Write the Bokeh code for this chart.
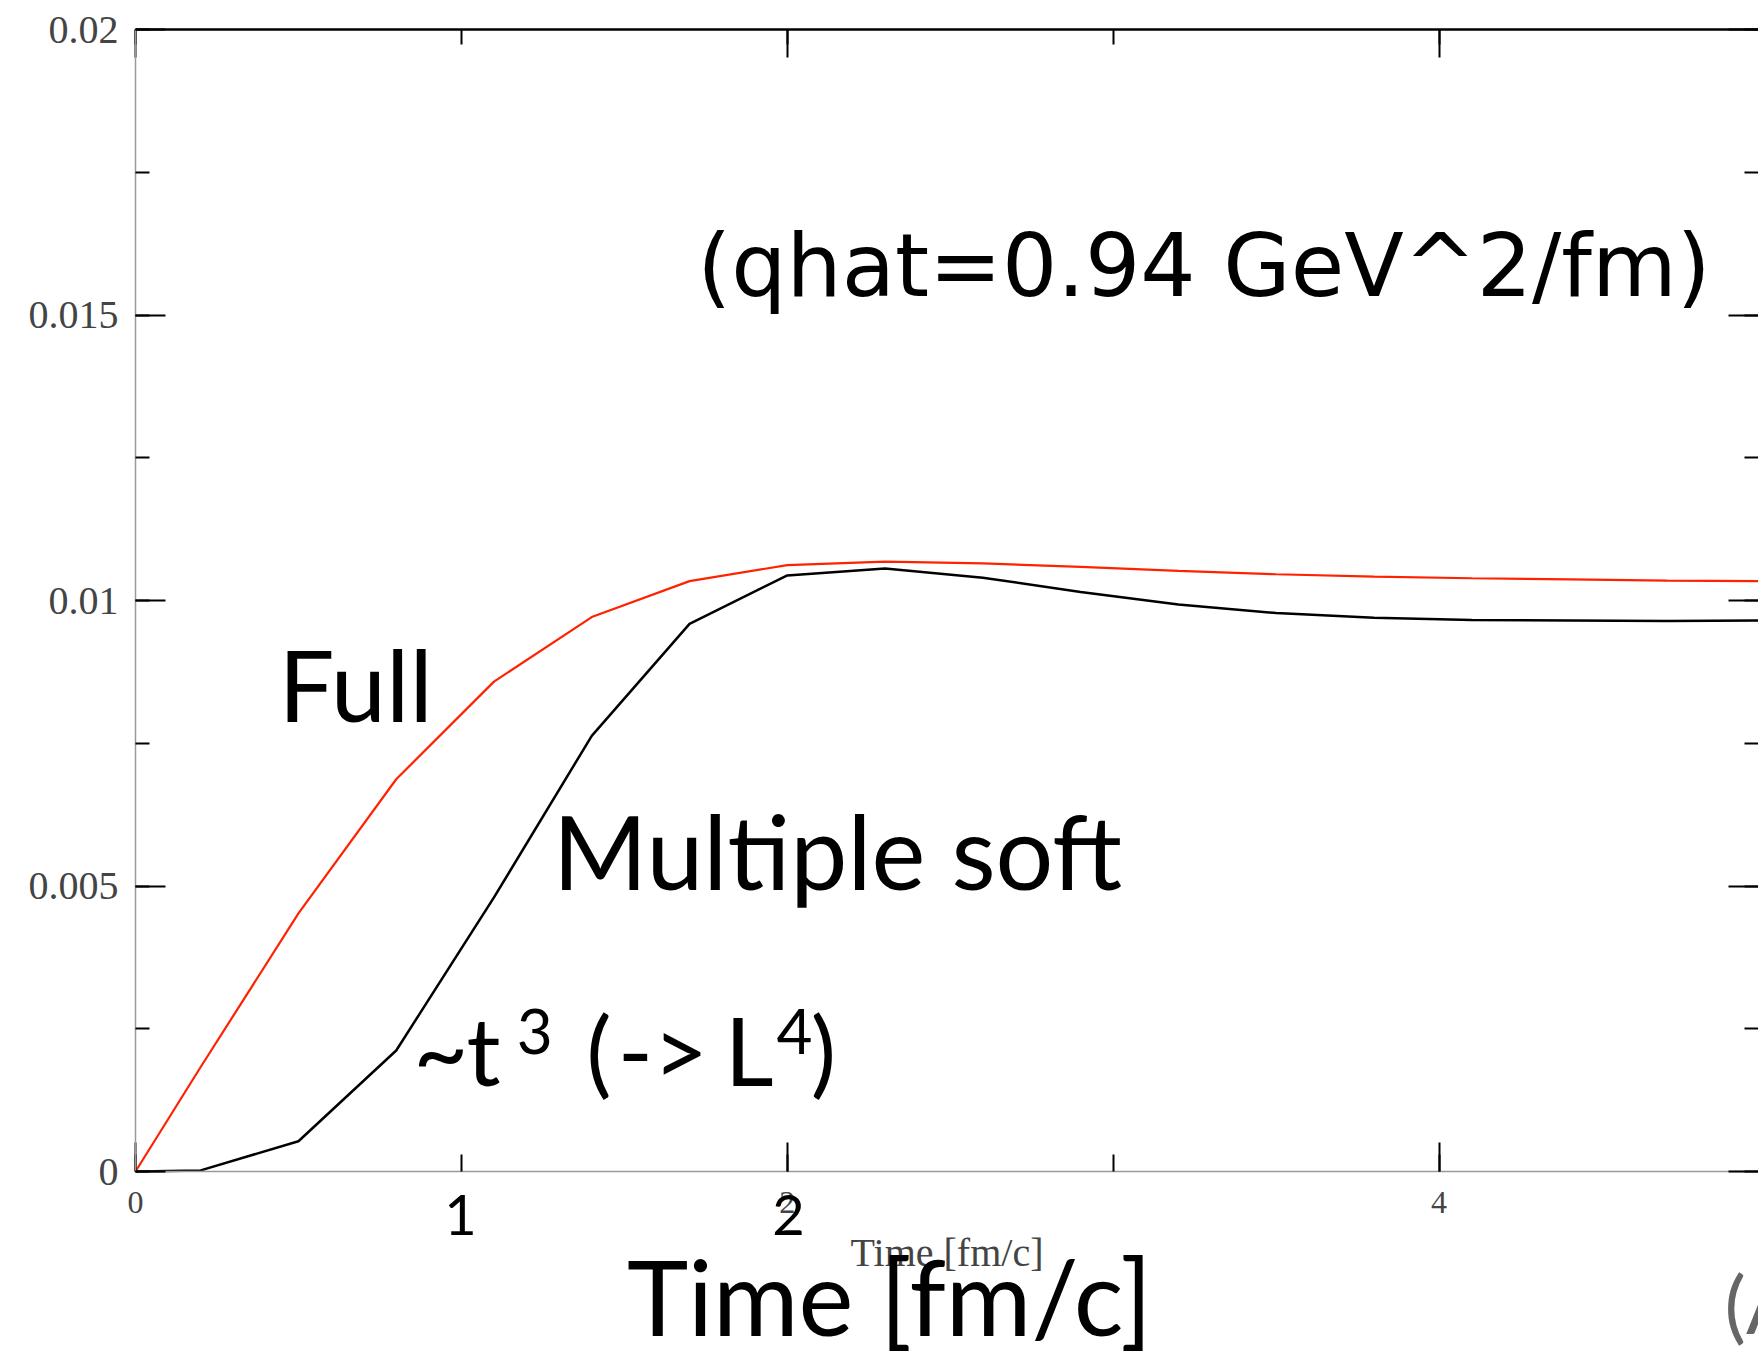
from bokeh.plotting import figure
from bokeh.models import (Range1d, SingleIntervalTicker, LinearAxis, Label,
                          CustomJSTickFormatter)
from bokeh.embed import file_html
from bokeh.resources import INLINE

# Time grid [fm/c]
time_fm = [0.0, 0.2, 0.5, 0.8, 1.1, 1.4, 1.7, 2.0, 2.3, 2.6, 2.9,
           3.2, 3.5, 3.8, 4.1, 4.4, 4.7, 5.0]
# Full calculation
full = [0.0, 0.00183, 0.00452, 0.00687, 0.00858, 0.00971, 0.01034, 0.01062,
        0.01068, 0.01065, 0.01059, 0.01052, 0.01046, 0.01042, 0.01039,
        0.01037, 0.01035, 0.01034]
# Multiple soft scattering approximation
multiple_soft = [0.0, 0.00002, 0.00053, 0.00212, 0.0048, 0.00763, 0.00959,
                 0.01044, 0.01056, 0.0104, 0.01015, 0.00993, 0.00978,
                 0.0097, 0.00966, 0.00965, 0.00964, 0.00965]

x_label = "Time [fm/c]"
serif = "Liberation Serif"
sans = "Lato"

# The frame fills the whole page so the slide captions around the axes can
# sit in data space; every axis is pinned at its data location.
p = figure(width=1758, height=1359, output_backend="svg", toolbar_location=None,
           x_range=Range1d(-0.4142, 4.98), y_range=Range1d(-0.003292, 0.020508),
           x_axis_location=None, y_axis_location=None,
           min_border_left=0, min_border_top=0, min_border_right=0,
           min_border_bottom=0)
p.outline_line_color = None
p.grid.visible = False
p.background_fill_color = "white"
p.border_fill_color = "white"

xt = SingleIntervalTicker(interval=2, num_minor_ticks=2)
yt = SingleIntervalTicker(interval=0.005, num_minor_ticks=2)
yfmt = CustomJSTickFormatter(code="return tick.toFixed(3).replace(/0+$/,'').replace(/\\.$/,'');")


def style_ticks(ax, major, minor):
    ax.major_tick_in = major
    ax.major_tick_out = 0
    ax.minor_tick_in = minor
    ax.minor_tick_out = 0
    ax.major_tick_line_color = "black"
    ax.minor_tick_line_color = "black"
    ax.major_tick_line_width = 2
    ax.minor_tick_line_width = 2


bottom = LinearAxis(ticker=xt, axis_label=x_label, fixed_location=0, bounds=(0, 5))
style_ticks(bottom, 29, 17)
bottom.axis_line_color = "#9a9a9a"
bottom.axis_line_width = 1.5
bottom.major_label_text_font = serif
bottom.major_label_text_font_size = "32px"
bottom.major_label_standoff = 20
bottom.axis_label_text_font = serif
bottom.axis_label_text_font_style = "normal"
bottom.axis_label_text_font_size = "40px"
bottom.axis_label_standoff = 14
p.add_layout(bottom, "below")

top = LinearAxis(ticker=xt, fixed_location=0.02, bounds=(0, 5))
style_ticks(top, 28, 15)
top.axis_line_color = "black"
top.axis_line_width = 2.5
top.major_label_text_font_size = "0px"
top.major_label_standoff = 0
p.add_layout(top, "above")

left = LinearAxis(ticker=yt, formatter=yfmt, bounds=(0, 0.02), fixed_location=0)
style_ticks(left, 30, 14)
left.axis_line_color = "#9a9a9a"
left.axis_line_width = 1.5
left.major_label_text_font = serif
left.major_label_text_font_size = "40px"
left.major_label_standoff = 17
p.add_layout(left, "left")

right = LinearAxis(ticker=yt, bounds=(0, 0.02))
style_ticks(right, 30, 14)
right.axis_line_color = None
right.major_label_text_font_size = "0px"
right.major_label_standoff = 0
p.add_layout(right, "right")

p.line(time_fm, full, line_color="#ff2200", line_width=2.2)
p.line(time_fm, multiple_soft, line_color="black", line_width=2.5)


def add_label(x, y, text, size, align="left", color="black", font=sans):
    p.add_layout(Label(x=x, y=y, text=text, text_font=font,
                       text_font_size=size, text_align=align,
                       text_baseline="alphabetic", text_color=color))


add_label(1.724, 0.015855, "(qhat=0.94 GeV^2/fm)", "87px", font="DejaVu Sans")
add_label(0.439, 0.008539, "Full", "99px")
add_label(1.280, 0.005618, "Multiple soft", "102px")
# ~t^3 (->L^4), set piece by piece so the exponents sit raised
add_label(0.852, 0.002137, "~", "95px")
add_label(1.016, 0.002137, "t", "95px")
add_label(1.170, 0.002457, "3", "62px")
add_label(1.383, 0.002137, "(", "95px")
add_label(1.480, 0.002137, "->", "95px")
add_label(1.808, 0.002137, "L", "95px")
add_label(1.967, 0.002457, "4", "62px")
add_label(2.072, 0.002137, ")", "95px")
add_label(0.997, -0.000764, "1", "56px", align="center")
add_label(2.004, -0.000764, "2", "56px", align="center")
add_label(1.508, -0.002170, "Time [fm/c]", "104px")
add_label(4.876, -0.002305, "(A", "80px", color="#666666")

open("out.html", "w").write(file_html(p, INLINE))
